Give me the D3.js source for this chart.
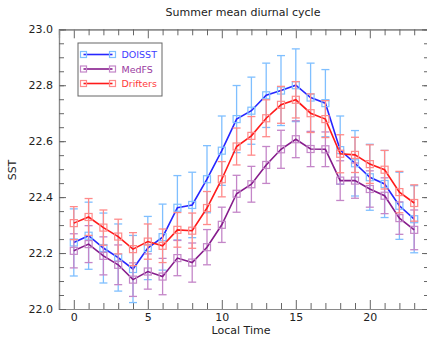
<!DOCTYPE html>
<html>
<head>
<meta charset="utf-8">
<script src="https://cdn.jsdelivr.net/npm/d3@7"></script>
<style>
  body { margin: 0; background: #fff; }
  text { font-family: "DejaVu Sans", sans-serif; fill: #222; }
</style>
</head>
<body>
<div id="chart"></div>
<script>
// hours of the day (local time)
var hours = d3.range(0, 24);

// series values
var doisst = [22.238, 22.262, 22.218, 22.184, 22.143, 22.218, 22.257, 22.362, 22.372, 22.464, 22.566, 22.679,
              22.709, 22.764, 22.781, 22.800, 22.756, 22.736, 22.568, 22.521, 22.471, 22.447, 22.369, 22.321];
var medfs  = [22.208, 22.232, 22.190, 22.158, 22.105, 22.134, 22.116, 22.182, 22.166, 22.221, 22.301, 22.412,
              22.446, 22.515, 22.571, 22.607, 22.572, 22.571, 22.459, 22.459, 22.429, 22.405, 22.325, 22.283];
var drifters = [22.307, 22.329, 22.291, 22.259, 22.214, 22.241, 22.226, 22.283, 22.280, 22.361, 22.464, 22.581,
                22.619, 22.682, 22.730, 22.748, 22.700, 22.679, 22.555, 22.551, 22.518, 22.498, 22.418, 22.379];

// error bar half-widths
var doisstErr = [0.120, 0.120, 0.125, 0.120, 0.120, 0.113, 0.118, 0.115, 0.117, 0.120, 0.124, 0.120,
                 0.120, 0.115, 0.125, 0.130, 0.123, 0.120, 0.122, 0.117, 0.118, 0.120, 0.120, 0.120];
var medfsErr = [0.061, 0.066, 0.068, 0.071, 0.060, 0.063, 0.065, 0.063, 0.070, 0.063, 0.063, 0.066,
                0.064, 0.066, 0.068, 0.066, 0.063, 0.062, 0.071, 0.063, 0.065, 0.064, 0.058, 0.071];
var driftersErr = [0.059, 0.066, 0.063, 0.062, 0.059, 0.063, 0.060, 0.062, 0.063, 0.059, 0.063, 0.066,
                   0.069, 0.066, 0.066, 0.065, 0.069, 0.066, 0.068, 0.063, 0.069, 0.069, 0.074, 0.065];

var seriesNames = ["DOISST", "MedFS", "Drifters"];
var yTicks = [22.0, 22.2, 22.4, 22.6, 22.8, 23.0];
var xTicks = [0, 5, 10, 15, 20];

var series = [
  {name: "DOISST", values: doisst, err: doisstErr, line: "#2626ff", light: "#7fbfff", label: "#3d3dff"},
  {name: "MedFS", values: medfs, err: medfsErr, line: "#861c8c", light: "#c486c8", label: "#9a3aa0"},
  {name: "Drifters", values: drifters, err: driftersErr, line: "#ff1a1a", light: "#ff8a8a", label: "#ff3a3a"}
];

var width = 427, height = 340;
var margin = {top: 29.3, right: -2, bottom: 31, left: 59};
var w = width - margin.left - margin.right,
    h = height - margin.top - margin.bottom;

var svg = d3.select("#chart").append("svg")
    .attr("width", width)
    .attr("height", height);

var g = svg.append("g")
    .attr("transform", "translate(" + margin.left + "," + margin.top + ")");

var x = d3.scaleLinear().domain([-1, 24]).range([0, w]);
var y = d3.scaleLinear().domain([22.0, 23.0]).range([h, 0]);

// axes with inward ticks on all four sides
var minorX = d3.range(-1, 25).filter(function(d) { return d % 5 !== 0; });
var minorY = d3.range(0, 21).map(function(i) { return 22 + i * 0.05; });

function styleAxis(sel) {
  sel.select(".domain").attr("stroke", "#8a8a8a").attr("stroke-width", 1.2);
  sel.selectAll(".tick line").attr("stroke", "#666");
  sel.selectAll(".tick text").style("font-size", "11px").attr("fill", "#222");
}

g.append("g").attr("transform", "translate(0," + h + ")")
  .call(d3.axisBottom(x).tickValues(xTicks).tickSize(-9).tickPadding(4).tickFormat(d3.format("d")))
  .call(styleAxis);
g.append("g").attr("transform", "translate(0," + h + ")")
  .call(d3.axisBottom(x).tickValues(minorX).tickSize(-6).tickFormat(""))
  .call(styleAxis);
g.append("g")
  .call(d3.axisTop(x).tickValues(xTicks).tickSize(-9).tickFormat(""))
  .call(styleAxis);
g.append("g")
  .call(d3.axisTop(x).tickValues(minorX).tickSize(-6).tickFormat(""))
  .call(styleAxis);

g.append("g")
  .call(d3.axisLeft(y).tickValues(yTicks).tickSize(-7).tickPadding(6).tickFormat(d3.format(".1f")))
  .call(styleAxis);
g.append("g")
  .call(d3.axisLeft(y).tickValues(minorY).tickSize(-5).tickFormat(""))
  .call(styleAxis);
g.append("g").attr("transform", "translate(" + w + ",0)")
  .call(d3.axisRight(y).tickValues(yTicks).tickSize(-7).tickFormat(""))
  .call(styleAxis);
g.append("g").attr("transform", "translate(" + w + ",0)")
  .call(d3.axisRight(y).tickValues(minorY).tickSize(-5).tickFormat(""))
  .call(styleAxis);

// error bars, lines and markers
var line = d3.line()
  .x(function(d, i) { return x(hours[i]); })
  .y(function(d) { return y(d); });

series.forEach(function(s) {
  var eb = g.append("g").attr("stroke", s.light).attr("stroke-width", 1.3);
  s.values.forEach(function(v, i) {
    var cx = x(hours[i]), lo = y(v - s.err[i]), hi = y(v + s.err[i]);
    eb.append("line").attr("x1", cx).attr("x2", cx).attr("y1", lo).attr("y2", hi);
    eb.append("line").attr("x1", cx - 4).attr("x2", cx + 4).attr("y1", lo).attr("y2", lo);
    eb.append("line").attr("x1", cx - 4).attr("x2", cx + 4).attr("y1", hi).attr("y2", hi);
  });

  g.append("path")
    .datum(s.values)
    .attr("fill", "none")
    .attr("stroke", s.line)
    .attr("stroke-width", 1.6)
    .attr("d", line);

  g.selectAll(".m-" + s.name)
    .data(s.values)
    .enter().append("rect")
    .attr("x", function(d, i) { return x(hours[i]) - 3.5; })
    .attr("y", function(d) { return y(d) - 3.5; })
    .attr("width", 7)
    .attr("height", 7)
    .attr("fill", "none")
    .attr("stroke", s.light)
    .attr("stroke-width", 1.2);
});

// legend
var legend = svg.append("g").attr("transform", "translate(78,43)");
legend.append("rect")
  .attr("width", 84).attr("height", 53)
  .attr("fill", "#fff").attr("stroke", "#666").attr("stroke-width", 1);

series.forEach(function(s, i) {
  var ly = 11.5 + i * 14.5;
  legend.append("line").attr("x1", 5.5).attr("x2", 34.5).attr("y1", ly).attr("y2", ly)
    .attr("stroke", s.line).attr("stroke-width", 1.6);
  [5.5, 34.5].forEach(function(px) {
    legend.append("rect").attr("x", px - 3).attr("y", ly - 3).attr("width", 6).attr("height", 6)
      .attr("fill", "none").attr("stroke", s.light).attr("stroke-width", 1.2);
  });
  legend.append("text").attr("x", 43.5).attr("y", ly + 3.5)
    .style("font-size", "9.5px").style("fill", s.label)
    .text(seriesNames[i]);
});

// title and axis labels
svg.append("text")
  .attr("x", 243).attr("y", 16)
  .attr("text-anchor", "middle")
  .style("font-size", "11px")
  .text("Summer mean diurnal cycle");

svg.append("text")
  .attr("x", 241).attr("y", 334)
  .attr("text-anchor", "middle")
  .style("font-size", "11px")
  .text("Local Time");

svg.append("text")
  .attr("transform", "translate(16,170) rotate(-90)")
  .attr("text-anchor", "middle")
  .style("font-size", "11px")
  .text("SST");
</script>
</body>
</html>
